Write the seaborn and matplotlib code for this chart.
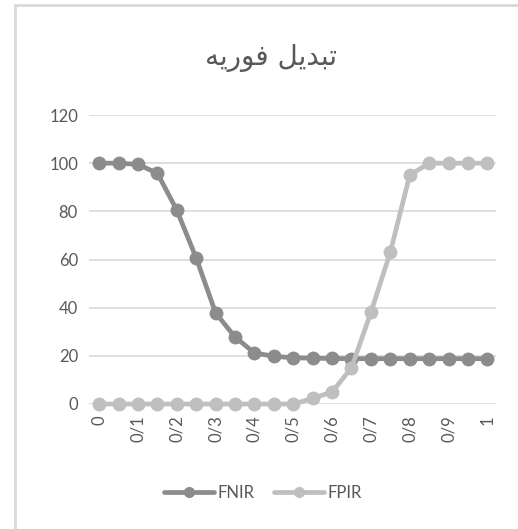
import matplotlib.pyplot as plt
import pandas as pd
import seaborn as sns
from matplotlib.lines import Line2D

# threshold values (0 .. 1 in steps of 0.05)
thresholds = [i / 20 for i in range(21)]
fnir = [100, 100, 99.5, 95.8, 80.5, 60.6, 37.8, 27.8, 21.2, 19.8, 19.2,
        19.0, 18.9, 18.8, 18.8, 18.8, 18.8, 18.8, 18.8, 18.8, 18.8]
fpir = [0, 0, 0, 0, 0, 0, 0, 0, 0, 0, 0,
        2.3, 5.0, 15.0, 38.0, 63.0, 95.0, 100, 100, 100, 100]
tick_values = [i / 10 for i in range(11)]
tick_labels = ["0", "0/1", "0/2", "0/3", "0/4", "0/5", "0/6", "0/7", "0/8", "0/9", "1"]
# "تبدیل فوریه" in shaped presentation forms, visual order
title = "\uFEEA\uFBFE\uFEAD\uFEEE\uFED3 \uFEDE\uFBFE\uFEAA\uFE92\uFE97"

df = pd.DataFrame({"threshold": thresholds * 2,
                   "value": fnir + fpir,
                   "series": ["FNIR"] * 21 + ["FPIR"] * 21})

sns.set_style("white")
plt.rcParams["font.family"] = ["Lato", "DejaVu Sans"]

fig = plt.figure(figsize=(5.18, 5.29), dpi=100)
ax = fig.add_axes([0.172, 0.2363, 0.786, 0.5463])
palette = {"FNIR": "#8c8c8c", "FPIR": "#bfbfbf"}
sns.lineplot(data=df, x="threshold", y="value", hue="series", palette=palette,
             marker="o", markersize=10, markeredgewidth=0, linewidth=3.4,
             ax=ax, legend=False, zorder=3)
for line in ax.lines:
    line.set_clip_on(False)

ax.set_xlim(-0.026, 1.023)
ax.set_ylim(0, 120)
ax.set_yticks(range(0, 121, 20))
ax.set_xticks(tick_values)
ax.set_xticklabels(tick_labels, rotation=90)
ax.set_xlabel("")
ax.set_ylabel("")
ax.grid(axis="y", color="#d9d9d9", linewidth=1.2, zorder=0)
ax.set_axisbelow(True)
for s in ax.spines.values():
    s.set_visible(False)
ax.tick_params(axis="both", length=0, labelsize=12, labelcolor="#595959", pad=8)

fig.text(0.523, 0.89, title, ha="center", va="center", fontsize=20,
         color="#595959", family=["DejaVu Sans"])

handles = [Line2D([], [], color=palette[k], marker="o", markersize=8,
                  markeredgewidth=0, linewidth=3.4) for k in ["FNIR", "FPIR"]]
fig.legend(handles, ["FNIR", "FPIR"], loc="center", ncol=2,
           bbox_to_anchor=(0.508, 0.068), frameon=False, fontsize=12,
           labelcolor="#595959", handlelength=3, columnspacing=1.2,
           handletextpad=0.2)

# chart area border (cropped on right/bottom)
fig.add_artist(Line2D([0.029, 1.0], [0.991, 0.991], color="#d9d9d9", linewidth=2,
                      transform=fig.transFigure))
fig.add_artist(Line2D([0.029, 0.029], [0.0, 0.991], color="#d9d9d9", linewidth=2,
                      transform=fig.transFigure))

fig.savefig("out.png", dpi=100)
